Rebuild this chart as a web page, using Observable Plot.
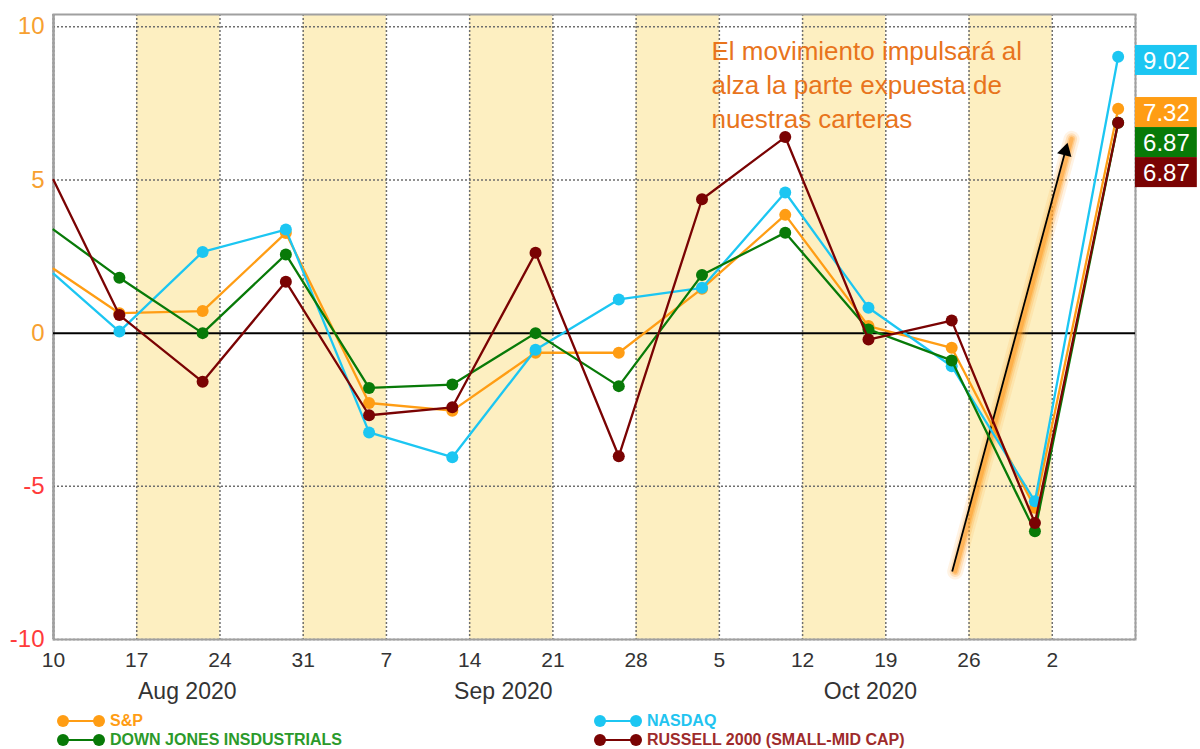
<!DOCTYPE html>
<html>
<head>
<meta charset="utf-8">
<script src="https://cdn.jsdelivr.net/npm/d3@7"></script>
<script src="https://cdn.jsdelivr.net/npm/@observablehq/plot@0.6"></script>
<style>
  body { margin: 0; background: #fff; font-family: "Liberation Sans", Arial, sans-serif; }
  #wrap { position: relative; width: 1200px; height: 749px; }
  #legend { position: relative; width: 1200px; height: 39px; }
  .lg { position: absolute; display: flex; align-items: center; font-weight: bold; font-size: 16px; line-height: 16px; white-space: nowrap; }
  .lg svg { margin-right: 5px; }
</style>
</head>
<body>
<div id="wrap"><div id="chart"></div><div id="legend"></div></div>
<script>
// ---- data (weekly % change) ----
const dates = [
  "2020-08-10T00:00Z", "2020-08-15T13:00Z", "2020-08-22T13:00Z", "2020-08-29T13:00Z",
  "2020-09-05T13:00Z", "2020-09-12T13:00Z", "2020-09-19T13:00Z", "2020-09-26T13:00Z",
  "2020-10-03T13:00Z", "2020-10-10T13:00Z", "2020-10-17T13:00Z", "2020-10-24T13:00Z",
  "2020-10-31T13:00Z", "2020-11-07T13:00Z"
];
const spValues      = [2.1, 0.65, 0.72, 3.27, -2.28, -2.53, -0.64, -0.64, 1.45, 3.86, 0.23, -0.48, -5.7, 7.32];
const nasdaqValues  = [1.94, 0.05, 2.65, 3.38, -3.24, -4.05, -0.54, 1.1, 1.48, 4.59, 0.83, -1.08, -5.49, 9.02];
const djValues      = [3.38, 1.81, 0.0, 2.57, -1.79, -1.68, 0.0, -1.73, 1.9, 3.28, 0.12, -0.89, -6.47, 6.87];
const russellValues = [5.0, 0.59, -1.59, 1.68, -2.68, -2.42, 2.62, -4.02, 4.37, 6.4, -0.21, 0.41, -6.2, 6.87];

const seriesNames  = ["S&P", "NASDAQ", "DOWN JONES INSDUSTRIALS", "RUSSELL 2000 (SMALL-MID CAP)"];
const seriesColors = ["#ff9d14", "#1cc6f2", "#087a08", "#7a0303"];
const legendText   = ["#ff9d14", "#22c4f0", "#2b9a2b", "#9e2b2b"];

const weekTicks = [
  "2020-08-10", "2020-08-17", "2020-08-24", "2020-08-31", "2020-09-07", "2020-09-14", "2020-09-21",
  "2020-09-28", "2020-10-05", "2020-10-12", "2020-10-19", "2020-10-26", "2020-11-02"
];
const monthLabels = ["Aug 2020", "Sep 2020", "Oct 2020"];
const monthLabelDates = ["2020-08-21T06:00Z", "2020-09-16T20:00Z", "2020-10-17T17:00Z"];
const yTicks = [10, 5, 0, -5, -10];
const yGrid = [10, 5, -5, -10];
const bandStarts = ["2020-08-17", "2020-08-31", "2020-09-14", "2020-09-28", "2020-10-12", "2020-10-26"];
const xDomain = ["2020-08-10", "2020-11-09"];
const yDomain = [-10, 10.4];

const noteText = "El movimiento impulsará al\nalza la parte expuesta de\nnuestras carteras";
const noteAt = {date: "2020-10-04T08:00Z", value: 9.72};
const arrowFrom = {date: "2020-10-24T14:00Z", value: -7.78};
const arrowTo = {date: "2020-11-03T09:00Z", value: 6.34};

// ---- build ----
const D = s => new Date(s.length === 10 ? s + "T00:00Z" : s);
const DAY = 864e5;
const allValues = [spValues, nasdaqValues, djValues, russellValues];
const series = seriesNames.map((name, i) => ({
  name, color: seriesColors[i],
  rows: dates.map((d, j) => ({date: D(d), value: allValues[i][j]}))
}));

const xStart = D(xDomain[0]), xEnd = D(xDomain[1]);
const ticks = weekTicks.map(D);
const gridX = [...ticks, xEnd];
const bands = bandStarts.map(s => ({x1: D(s), x2: new Date(+D(s) + 7 * DAY)}));

// value labels at right (dodged downward)
const boxH = 0.98;
const labels = series.map(s => ({name: s.name, color: s.color, value: s.rows[s.rows.length - 1].value}))
  .sort((a, b) => b.value - a.value);
let prev = Infinity;
for (const l of labels) { l.cy = Math.min(l.value - 0.12, prev - boxH); prev = l.cy; }
const boxX1 = xEnd, boxX2 = new Date(+xEnd + 5.2 * DAY), boxXc = new Date(+xEnd + 2.6 * DAY);

const aF = {x: D(arrowFrom.date), y: arrowFrom.value};
const aT = {x: D(arrowTo.date), y: arrowTo.value};
const t = 0.972;
const headPt = {x: new Date(+aF.x + (aT.x - aF.x) * t), y: aF.y + (aT.y - aF.y) * t};

const marks = [
  Plot.rect(bands, {x1: "x1", x2: "x2", fill: "#fdefc1"}),
  Plot.ruleX(gridX, {stroke: "#6e6e6e", strokeWidth: 1.5, strokeDasharray: "2,2"}),
  Plot.ruleY(yGrid, {stroke: "#6e6e6e", strokeWidth: 1.5, strokeDasharray: "2,2"}),
  Plot.ruleX([xStart], {stroke: "#111", strokeWidth: 1.5}),
  Plot.frame({stroke: "#a0a0a0", strokeWidth: 2}),
  Plot.ruleY([0], {stroke: "#000", strokeWidth: 2}),
  // glow for arrow
  ...[[16, 0.12], [11, 0.2], [7, 0.3], [4, 0.45]].map(([w, o]) =>
    Plot.link([0], {x1: () => aF.x, y1: () => aF.y, x2: () => aT.x, y2: () => aT.y,
      stroke: "#ff9a1f", strokeWidth: w, strokeOpacity: o, strokeLinecap: "round", dx: 3})),
  Plot.link([0], {x1: () => aF.x, y1: () => aF.y, x2: () => headPt.x, y2: () => headPt.y, stroke: "#000", strokeWidth: 1.8}),
  Plot.dot([headPt], {x: "x", y: "y", symbol: "triangle", r: 5.5, fill: "#000", stroke: "none", rotate: 15}),
];
for (const s of series) {
  marks.push(Plot.line(s.rows, {x: "date", y: "value", stroke: s.color, strokeWidth: 2.3}));
  marks.push(Plot.dot(s.rows.slice(1), {x: "date", y: "value", fill: s.color, r: 6}));
}
marks.push(
  Plot.rect(labels, {x1: () => boxX1, x2: () => boxX2, y1: d => d.cy - boxH / 2, y2: d => d.cy + boxH / 2, fill: "color"}),
  Plot.text(labels, {x: () => boxXc, y: "cy", text: d => d.value.toFixed(2), fill: "#fff", fontSize: 24, textAnchor: "middle", dy: 1}),
  Plot.text(yTicks, {x: () => xStart, y: d => d, text: d => String(d), dx: -9, textAnchor: "end", fontSize: 24,
    fill: d => d >= 0 ? "#f7a030" : "#ff3a3a"}),
  Plot.text(ticks, {x: d => d, y: () => yDomain[0], text: d => String(d.getUTCDate()), dy: 21, fontSize: 21, fill: "#333"}),
  Plot.text(monthLabels, {x: (d, i) => D(monthLabelDates[i]), y: () => yDomain[0], text: d => d, dy: 52, fontSize: 23, fill: "#333"}),
  Plot.text([noteText], {x: () => D(noteAt.date), y: () => noteAt.value, text: d => d, textAnchor: "start", lineAnchor: "top",
    lineHeight: 1.31, fontSize: 26, fill: "#e8741c"})
);

const chart = Plot.plot({
  width: 1200, height: 710,
  marginLeft: 53, marginRight: 65, marginTop: 14, marginBottom: 71,
  x: {type: "utc", domain: [xStart, xEnd], axis: null},
  y: {domain: yDomain, axis: null},
  color: {type: "identity"},
  style: {fontFamily: "'Liberation Sans', Arial, sans-serif", background: "white", overflow: "visible"},
  marks
});
document.getElementById("chart").appendChild(chart);

// legend
const legendPos = [[57, 3], [594, 3], [57, 22], [594, 22]];
const lg = document.getElementById("legend");
series.forEach((s, i) => {
  const el = document.createElement("div");
  el.className = "lg";
  el.style.left = legendPos[i][0] + "px";
  el.style.top = legendPos[i][1] + "px";
  el.style.color = legendText[i];
  el.innerHTML = `<svg width="48" height="14"><line x1="6" y1="7" x2="42" y2="7" stroke="${s.color}" stroke-width="2"/>` +
    `<circle cx="6" cy="7" r="6" fill="${s.color}"/><circle cx="42" cy="7" r="6" fill="${s.color}"/></svg>`;
  el.appendChild(document.createTextNode(s.name));
  lg.appendChild(el);
});
</script>
</body>
</html>
